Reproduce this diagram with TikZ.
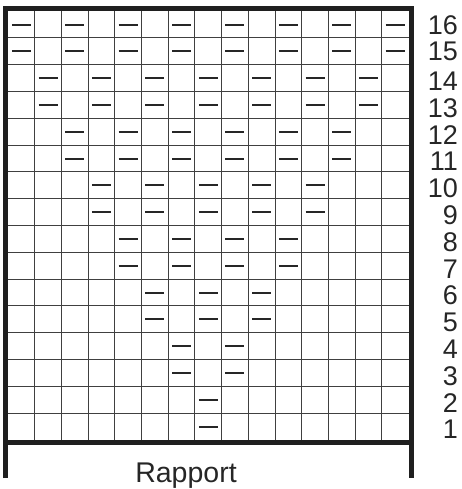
\documentclass[tikz,border=0pt]{standalone}
\usepackage{fontspec}
\setmainfont{Liberation Sans}
\begin{document}
\begin{tikzpicture}[x=1pt,y=-1pt,
  gridline/.style={draw=black!75,line width=0.9pt},
  frameline/.style={draw=black!88,line width=5pt},
  stitch/.style={draw=black!85,line width=2pt},
  num/.style={inner sep=0pt,anchor=east,font=\fontsize{27}{27}\selectfont,text=black!85},
  lbl/.style={inner sep=0pt,anchor=base,font=\fontsize{28.5}{28.5}\selectfont,text=black!85}]
\useasboundingbox (0,0) rectangle (462,489);
% grid
\foreach \i in {1,...,14}
  \draw[gridline] ({8+\i*26.7},11) -- ({8+\i*26.7},440);
\foreach \j in {1,...,15}
  \draw[gridline] (8,{11+\j*26.8}) -- (408.5,{11+\j*26.8});
% stitches
\foreach \r in {1,...,16} {
  \pgfmathtruncatemacro\k{int((\r+1)/2)}
  \pgfmathtruncatemacro\km{\k-1}
  \foreach \i in {0,...,\km} {
    \pgfmathsetmacro\xc{8+(9-\k+2*\i-0.5)*26.7}
    \pgfmathsetmacro\yc{440-(\r-0.5)*26.8}
    \draw[stitch] ({\xc-9.5},\yc) -- ({\xc+9.5},\yc);
  }
}
\foreach \r in {1,...,14}
  \node[num] (n\r) at (458,{440-(\r-0.5)*26.8+3}) {\r};
\node[num] (n15) at (458,51) {15};
\node[num] (n16) at (458,25) {16};
% frame
\draw[frameline,line join=miter] (5.5,478) -- (5.5,8.5) -- (411,8.5) -- (411,478);
\draw[frameline] (3,442.5) -- (413.5,442.5);
\node[lbl] (rapport) at (186,482) {Rapport};
\end{tikzpicture}
\end{document}
